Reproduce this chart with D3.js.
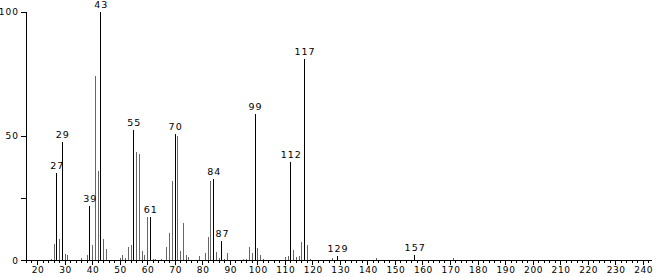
<!DOCTYPE html>
<html><head><meta charset="utf-8">
<script src="https://cdn.jsdelivr.net/npm/d3@7"></script>
<style>
html,body{margin:0;padding:0;background:#fff;}
text{font-family:"DejaVu Sans",Verdana,sans-serif;}
</style></head>
<body><svg id="c" width="656" height="277"></svg>
<script>
// m/z values and relative intensities (%)
const mz = [25,26,27,28,29,30,31,36,38,39,40,41,42,43,44,45,50,51,52,53,54,55,56,57,58,59,60,61,62,63,65,67,68,69,70,71,72,73,74,75,79,81,82,83,84,85,86,87,88,89,95,96,97,98,99,100,101,102,110,111,112,113,114,115,116,117,118,119,127,129,143,157,171];
const intensity = [0.5,6.4,35,8.5,47.6,2.4,2,1,2,21.7,5.9,74,36,100,8.6,4.3,1,2,0.8,5.2,5.9,52.3,43.6,42.7,3.7,1.9,17.4,17.4,0.5,0.5,0.4,5.4,10.7,31.8,50.7,50,3.7,14.8,2,1.4,1.6,2.7,9.1,31.8,32.5,3.2,0.8,7.8,0.5,2.7,0.6,0.4,5.1,2.9,58.8,4.7,2,0.4,1.2,1.6,39.3,4.2,1.1,1.5,7.4,80.9,5.9,0.6,1,1.5,0.8,2,0.7];
const labeledPeaks = [27,29,39,43,55,61,70,84,87,99,112,117,129,157];
const xTicks = [20,30,40,50,60,70,80,90,100,110,120,130,140,150,160,170,180,190,200,210,220,230,240];
const yTicks = [0,50,100];
const yMinorTicks = [25];

const svg = d3.select("#c");
const x = d3.scaleLinear().domain([20,240]).range([37,642.7]);
const y = d3.scaleLinear().domain([0,100]).range([260,11.5]);
const x0 = 26, xEnd = 652;

// bars
svg.append("g").selectAll("line").data(mz).join("line")
  .attr("x1",d=>Math.round(x(d))+0.5).attr("x2",d=>Math.round(x(d))+0.5)
  .attr("y1",y(0)).attr("y2",(d,i)=>y(intensity[i]))
  .attr("stroke",d=>labeledPeaks.includes(d)?"#000":"#666")
  .attr("stroke-width",1).attr("shape-rendering","crispEdges");

// peak labels
svg.append("g").selectAll("text").data(labeledPeaks).join("text")
  .attr("x",d=>x(d)+1).attr("y",d=>y(intensity[mz.indexOf(d)])-4)
  .attr("text-anchor","middle").attr("font-size",9.5).attr("letter-spacing",1)
  .attr("fill","#000").text(d=>d);

// x axis
const gx = svg.append("g");
gx.append("line").attr("x1",x0).attr("x2",xEnd).attr("y1",260.5).attr("y2",260.5)
  .attr("stroke","#000").attr("shape-rendering","crispEdges");
const minor = d3.range(16,244,2);
gx.selectAll("line.mt").data(minor).join("line").attr("class","mt")
  .attr("x1",d=>Math.round(x(d))+0.5).attr("x2",d=>Math.round(x(d))+0.5)
  .attr("y1",260).attr("y2",d=>d%10===0?265:263)
  .attr("stroke","#000").attr("shape-rendering","crispEdges");
gx.selectAll("text").data(xTicks).join("text")
  .attr("x",d=>x(d)+1).attr("y",273).attr("text-anchor","middle")
  .attr("font-size",9).attr("letter-spacing",0.6).text(d=>d);

// y axis
const gy = svg.append("g");
gy.append("line").attr("x1",x0+0.5).attr("x2",x0+0.5).attr("y1",y(100)).attr("y2",260.5)
  .attr("stroke","#000").attr("shape-rendering","crispEdges");
gy.selectAll("line.yt").data(yTicks.concat(yMinorTicks)).join("line").attr("class","yt")
  .attr("x1",x0-5).attr("x2",x0).attr("y1",d=>Math.round(y(d))+0.5).attr("y2",d=>Math.round(y(d))+0.5)
  .attr("stroke","#000").attr("shape-rendering","crispEdges");
gy.selectAll("text").data(yTicks).join("text")
  .attr("x",x0-7).attr("y",d=>y(d)+3.5).attr("text-anchor","end")
  .attr("font-size",9).attr("letter-spacing",1).text(d=>d);
</script></body></html>
